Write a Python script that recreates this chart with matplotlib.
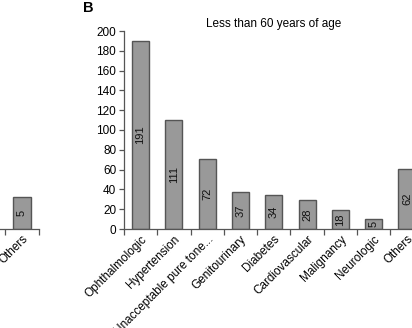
import numpy as np
import matplotlib
matplotlib.use('Agg')
import matplotlib.pyplot as plt

plt.rcParams['font.family'] = ['Liberation Sans', 'DejaVu Sans']

# panel B (less than 60 years of age)
categories = ['Ophthalmologic', 'Hypertension', 'Unacceptable pure tone...',
              'Genitourinary', 'Diabetes', 'Cardiovascular', 'Malignancy',
              'Neurologic', 'Others']
heights = [190, 110, 71, 37, 34, 29, 19, 10, 61]
labels = ['191', '111', '72', '37', '34', '28', '18', '5', '62']
yticks = [0, 20, 40, 60, 80, 100, 120, 140, 160, 180, 200]

# cut-off piece of panel A on the left
left_categories = ['Others']
left_heights = [32]
left_labels = ['5']

W, H = 412, 328
fig = plt.figure(figsize=(W / 100, H / 100), dpi=100)

bar_face = '#999999'
bar_edge = '#555555'
axis_col = '#555555'
step = 33.3
y0, y200 = 229, 31


def style_axis(ax, n):
    ax.set_xlim(-0.5, n - 0.5)
    ax.set_ylim(0, 200)
    for s in ['top', 'right']:
        ax.spines[s].set_visible(False)
    for s in ['left', 'bottom']:
        ax.spines[s].set_color(axis_col)
        ax.spines[s].set_linewidth(0.9)
    ax.set_xticks(np.arange(-0.5, n, 1), minor=True)
    ax.tick_params(axis='x', which='minor', length=4, width=0.9,
                   color=axis_col, direction='out')
    ax.tick_params(axis='x', which='major', length=0, pad=3, labelsize=8.5)


def draw_bars(ax, heights, labels):
    x = np.arange(len(heights))
    ax.bar(x, heights, width=0.51, color=bar_face, edgecolor=bar_edge,
           linewidth=1.0)
    for xi, h, lab in zip(x, heights, labels):
        ax.text(xi, h / 2, lab, rotation=90, ha='center', va='center',
                fontsize=8, color='#111111')


# main panel
n = len(categories)
left_px = 123.9
ax = fig.add_axes([left_px / W, (H - y0) / H, n * step / W, (y0 - y200) / H])
draw_bars(ax, heights, labels)
style_axis(ax, n)
ax.set_xticks(np.arange(n))
ax.set_xticklabels(categories, rotation=45, ha='right', va='top',
                   rotation_mode='anchor')
ax.set_yticks(yticks)
ax.tick_params(axis='y', length=3.5, width=0.9, color=axis_col,
               direction='out', pad=2, labelsize=8.5)

# partial left panel
nl = 2
ax2 = fig.add_axes([(39 - nl * 34) / W, (H - y0) / H, nl * 34 / W,
                    (y0 - y200) / H])
draw_bars(ax2, [0] + left_heights, [''] + left_labels)
style_axis(ax2, nl)
ax2.set_xticks([1])
ax2.set_xticklabels(left_categories, rotation=45, ha='right', va='top',
                    rotation_mode='anchor')
ax2.spines['left'].set_visible(False)
ax2.set_yticks([])

fig.text((left_px + n * step / 2 - 150 + 150) / W, 1 - 24 / H,
         'Less than 60 years of age', ha='center', va='center', fontsize=8.5)
fig.text(83 / W, 1 - 8 / H, 'B', ha='left', va='center', fontsize=10.5,
         fontweight='bold')

fig.savefig('out.png', dpi=100)
